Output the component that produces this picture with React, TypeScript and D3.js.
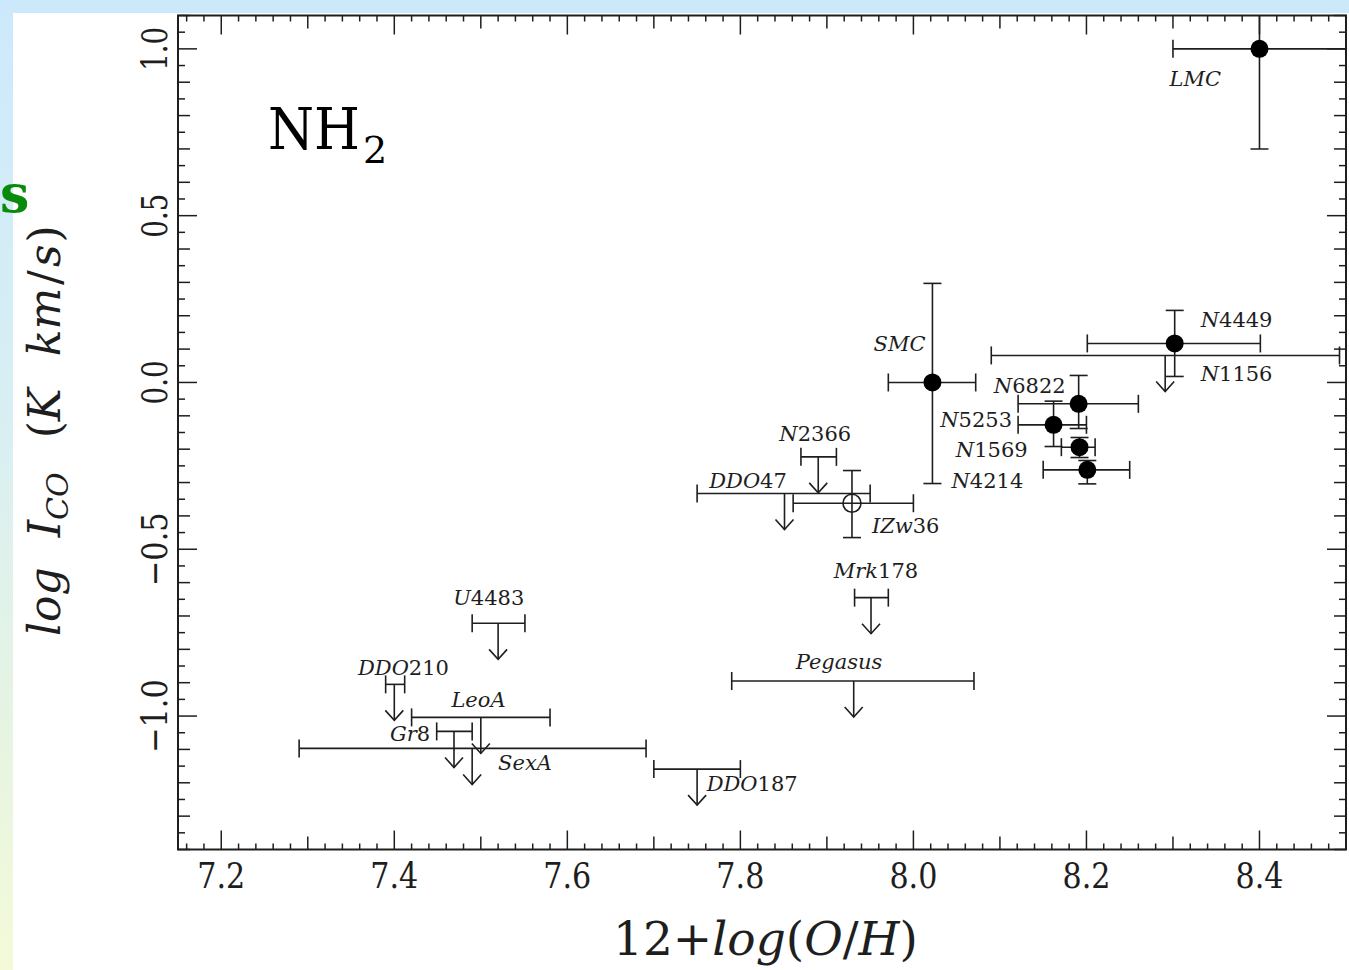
import React from "react";
import * as d3 from "d3";

// ---- data ----
const detNames = ["LMC", "N4449", "SMC", "N6822", "N5253", "N1569", "N4214"];
const detX = [8.40, 8.302, 8.022, 8.191, 8.162, 8.192, 8.201];
const detXLo = [8.30, 8.201, 7.971, 8.121, 8.121, 8.171, 8.15];
const detXHi = [8.56, 8.401, 8.072, 8.26, 8.20, 8.21, 8.25];
const detY = [1.0, 0.117, 0.0, -0.064, -0.127, -0.194, -0.262];
const detYLo = [0.70, 0.018, -0.303, -0.138, -0.192, -0.225, -0.304];
const detYHi = [1.2, 0.216, 0.297, 0.021, -0.056, -0.165, -0.234];

const openNames = ["IZw36"];
const openX = [7.929];
const openXLo = [7.861];
const openXHi = [8.0];
const openY = [-0.362];
const openYLo = [-0.465];
const openYHi = [-0.264];

const ulNames = ["N1156", "N2366", "DDO47", "Mrk178", "Pegasus", "U4483", "DDO210", "LeoA", "Gr8", "SexA", "DDO187"];
const ulX = [8.291, 7.89, 7.851, 7.951, 7.931, 7.52, 7.40, 7.50, 7.469, 7.49, 7.75];
const ulXLo = [8.09, 7.87, 7.75, 7.932, 7.79, 7.49, 7.39, 7.42, 7.449, 7.29, 7.70];
const ulXHi = [8.4925, 7.911, 7.95, 7.971, 8.07, 7.551, 7.412, 7.58, 7.49, 7.691, 7.80];
const ulY = [0.081, -0.223, -0.333, -0.645, -0.895, -0.722, -0.905, -1.004, -1.046, -1.097, -1.159];

// label anchors (data units: left x, baseline y)
const labelNames = ["LMC", "N4449", "N1156", "SMC", "N6822", "N5253", "N1569", "N4214", "N2366", "DDO47", "IZw36", "Mrk178", "Pegasus", "U4483", "DDO210", "LeoA", "Gr8", "SexA", "DDO187"];
const labelX = [8.296, 8.332, 8.332, 7.954, 8.093, 8.031, 8.049, 8.044, 7.845, 7.764, 7.952, 7.908, 7.864, 7.468, 7.358, 7.466, 7.395, 7.52, 7.761];
const labelY = [0.89, 0.166, 0.005, 0.094, -0.031, -0.133, -0.223, -0.316, -0.175, -0.316, -0.451, -0.586, -0.858, -0.667, -0.877, -0.973, -1.075, -1.162, -1.225];

const xTickLabels = ["7.2", "7.4", "7.6", "7.8", "8.0", "8.2", "8.4"];
const yTickLabels = ["1.0", "0.5", "0.0", "\u22120.5", "\u22121.0"];

const X_DOMAIN: [number, number] = [7.15, 8.5];
const Y_DOMAIN: [number, number] = [-1.4, 1.1];
const ARROW = 0.108;

const W = 1349, H = 970;
const L = 178, R = 1346, T = 15.5, B = 849.5;
const INK = "#1e1e1e";
const SERIF = "DejaVu Serif";

function NameText({ name, x, y }: { name: string; x: number; y: number }) {
  const parts = name.match(/[A-Za-z]+|[0-9]+/g) || [];
  return (
    <text x={x} y={y} fontFamily={SERIF} fontSize={21} fill={INK}>
      {parts.map((p, i) => (
        <tspan key={i} fontStyle={/[0-9]/.test(p) ? "normal" : "italic"}>{p}</tspan>
      ))}
    </text>
  );
}

export default function App() {
  const x = d3.scaleLinear().domain(X_DOMAIN).range([L, R]);
  const y = d3.scaleLinear().domain(Y_DOMAIN).range([B, T]);

  const xMinor = d3.range(7.16, 8.5, 0.02).map((v) => +v.toFixed(2));
  const yMinor = d3.range(-1.4, 1.1001, 0.05).map((v) => +v.toFixed(2));

  const xTicks = xMinor.map((v) => {
    const r2 = Math.abs(Math.round(v * 5) - v * 5) < 1e-6;
    const r1 = Math.abs(Math.round(v * 10) - v * 10) < 1e-6;
    return { v, len: r2 ? 19 : r1 ? 13 : 6 };
  });
  const yTicks = yMinor.map((v) => {
    const r5 = Math.abs(Math.round(v * 2) - v * 2) < 1e-6;
    const r1 = Math.abs(Math.round(v * 10) - v * 10) < 1e-6;
    return { v, len: r5 ? 19 : r1 ? 12 : 7 };
  });

  const cap = 9;
  const sw = 1.6;

  const errBars = (xv: number, xl: number, xh: number, yv: number, yl: number, yh: number, key: string) => (
    <g key={key} stroke={INK} strokeWidth={sw} fill="none">
      <line x1={x(xl)} x2={x(xh)} y1={y(yv)} y2={y(yv)} />
      <line x1={x(xl)} x2={x(xl)} y1={y(yv) - cap} y2={y(yv) + cap} />
      <line x1={x(xh)} x2={x(xh)} y1={y(yv) - cap} y2={y(yv) + cap} />
      <line x1={x(xv)} x2={x(xv)} y1={y(yl)} y2={y(yh)} />
      <line x1={x(xv) - cap} x2={x(xv) + cap} y1={y(yl)} y2={y(yl)} />
      <line x1={x(xv) - cap} x2={x(xv) + cap} y1={y(yh)} y2={y(yh)} />
    </g>
  );

  return (
    <svg width={W} height={H} style={{ position: "absolute", left: 0, top: 0 }}>
      <defs>
        <linearGradient id="bg" x1="0" y1="0" x2="0" y2="1">
          <stop offset="0" stopColor="#cce9fc" />
          <stop offset="0.45" stopColor="#d9eff2" />
          <stop offset="0.75" stopColor="#e6f4e2" />
          <stop offset="1" stopColor="#f4fad8" />
        </linearGradient>
        <clipPath id="plotclip">
          <rect x={L} y={T} width={R - L} height={B - T} />
        </clipPath>
      </defs>
      <rect x={0} y={0} width={W} height={H} fill="url(#bg)" />
      <rect x={0} y={0} width={W} height={13} fill="#cce9fc" />
      <rect x={13} y={13} width={W - 13} height={H - 13} fill="#ffffff" />

      <text x={0} y={212} fontFamily={SERIF} fontWeight="bold" fontSize={52} fill="#0a8a0a">s</text>

      {/* frame */}
      <rect x={L} y={T} width={R - L} height={B - T} fill="none" stroke={INK} strokeWidth={2} />

      {/* ticks */}
      <g stroke={INK} strokeWidth={1.5}>
        {xTicks.map((t, i) => (
          <g key={"xt" + i}>
            <line x1={x(t.v)} x2={x(t.v)} y1={B} y2={B - t.len} />
            <line x1={x(t.v)} x2={x(t.v)} y1={T} y2={T + t.len} />
          </g>
        ))}
        {yTicks.map((t, i) => (
          <g key={"yt" + i}>
            <line x1={L} x2={L + t.len} y1={y(t.v)} y2={y(t.v)} />
            <line x1={R} x2={R - t.len} y1={y(t.v)} y2={y(t.v)} />
          </g>
        ))}
      </g>

      {/* tick labels */}
      <g fontFamily={SERIF} fontSize={36} fill={INK}>
        {xTickLabels.map((s) => (
          <text key={s} x={x(+s)} y={888} textAnchor="middle" textLength={48} lengthAdjust="spacingAndGlyphs">{s}</text>
        ))}
        {yTickLabels.map((s) => {
          const v = +s.replace("\u2212", "-");
          const neg = s.startsWith("\u2212");
          return (
            <text key={s} x={0} y={0} textAnchor="middle" textLength={neg ? 74 : 44} lengthAdjust="spacingAndGlyphs" transform={`translate(167,${y(v)}) rotate(-90)`}>{s}</text>
          );
        })}
      </g>

      {/* axis titles */}
      <text x={613} y={955} fontFamily={SERIF} fontSize={46} fill={INK} textLength={305} lengthAdjust="spacingAndGlyphs">
        <tspan>12+</tspan>
        <tspan fontStyle="italic">log</tspan>
        <tspan>(</tspan>
        <tspan fontStyle="italic">O</tspan>
        <tspan>/</tspan>
        <tspan fontStyle="italic">H</tspan>
        <tspan>)</tspan>
      </text>
      <text x={0} y={0} transform="translate(60,636) rotate(-90)" fontFamily={SERIF} fontSize={44} fill={INK}>
        <tspan fontStyle="italic">log</tspan>
        <tspan dx={30} fontStyle="italic">I</tspan>
        <tspan fontStyle="italic" fontSize={30} dy={8}>CO</tspan>
        <tspan dy={-8} dx={34}>(</tspan>
        <tspan fontStyle="italic">K</tspan>
        <tspan dx={32} fontStyle="italic">km</tspan>
        <tspan dx={3}>/</tspan>
        <tspan dx={3} fontStyle="italic">s</tspan>
        <tspan dx={2}>)</tspan>
      </text>

      {/* title */}
      <text x={268} y={149} fontFamily={SERIF} fontSize={58} fill="#000" textLength={92} lengthAdjust="spacingAndGlyphs">NH</text>
      <text x={363} y={163} fontFamily={SERIF} fontSize={38} fill="#000">2</text>

      <g clipPath="url(#plotclip)">
        {/* upper limits */}
        {ulNames.map((n, i) => {
          const yy = y(ulY[i]);
          const ax = x(ulX[i]);
          const ay = y(ulY[i] - ARROW);
          return (
            <g key={n} stroke={INK} strokeWidth={sw} fill="none">
              <line x1={x(ulXLo[i])} x2={x(ulXHi[i])} y1={yy} y2={yy} />
              <line x1={x(ulXLo[i])} x2={x(ulXLo[i])} y1={yy - cap} y2={yy + cap} />
              <line x1={x(ulXHi[i])} x2={x(ulXHi[i])} y1={yy - cap} y2={yy + cap} />
              <line x1={ax} x2={ax} y1={yy} y2={ay} />
              <polyline points={`${ax - 9},${ay - 10} ${ax},${ay} ${ax + 9},${ay - 10}`} />
            </g>
          );
        })}
        {/* detections */}
        {detNames.map((n, i) => errBars(detX[i], detXLo[i], detXHi[i], detY[i], detYLo[i], detYHi[i], n))}
        {detNames.map((n, i) => (
          <circle key={"c" + n} cx={x(detX[i])} cy={y(detY[i])} r={9} fill="#000" />
        ))}
        {openNames.map((n, i) => errBars(openX[i], openXLo[i], openXHi[i], openY[i], openYLo[i], openYHi[i], n))}
        {openNames.map((n, i) => (
          <circle key={"o" + n} cx={x(openX[i])} cy={y(openY[i])} r={9} fill="none" stroke={INK} strokeWidth={sw} />
        ))}
      </g>

      {/* labels */}
      {labelNames.map((n, i) => (
        <NameText key={"l" + n} name={n} x={x(labelX[i])} y={y(labelY[i])} />
      ))}
    </svg>
  );
}
